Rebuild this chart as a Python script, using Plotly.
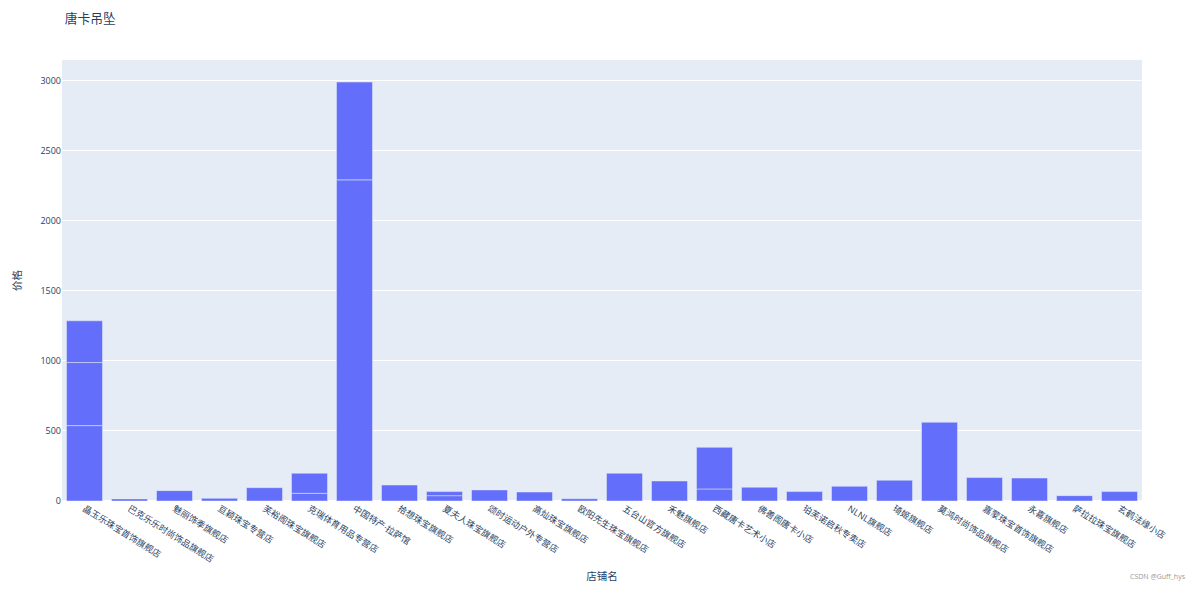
import pandas as pd
import plotly.express as px

shops = [
    "晶玉乐珠宝首饰旗舰店", "晶玉乐珠宝首饰旗舰店", "晶玉乐珠宝首饰旗舰店",
    "巴克乐乐时尚饰品旗舰店",
    "魅丽饰季旗舰店",
    "亘颖珠宝专营店",
    "芙裕阁珠宝旗舰店",
    "克瑞体育用品专营店", "克瑞体育用品专营店",
    "中国特产·拉萨馆", "中国特产·拉萨馆",
    "拾想珠宝旗舰店",
    "夏夫人珠宝旗舰店", "夏夫人珠宝旗舰店",
    "颂时运动户外专营店",
    "高灿珠宝旗舰店",
    "欧阳先生珠宝旗舰店",
    "五台山官方旗舰店",
    "禾魅旗舰店",
    "西藏唐卡艺术小店", "西藏唐卡艺术小店",
    "佛善阁唐卡小店",
    "珀芙诺启秋专卖店",
    "NLNL旗舰店",
    "琦姬旗舰店",
    "莫鸿时尚饰品旗舰店",
    "嘉蒙珠宝首饰旗舰店",
    "永喜旗舰店",
    "萨拉拉珠宝旗舰店",
    "玄鹤法缘小店",
]
prices = [
    538, 450, 298,
    15,
    74,
    19,
    95,
    55, 143,
    2292, 698,
    114,
    38, 29,
    79,
    64,
    16,
    198,
    143,
    86, 297,
    98,
    67,
    105,
    148,
    562,
    167,
    164,
    38,
    67,
]

df = pd.DataFrame({"店铺名": shops, "价格": prices})

fig = px.bar(df, x="店铺名", y="价格", title="唐卡吊坠")

fig.update_layout(
    width=1184, height=575,
    font=dict(family="Open Sans, Noto Sans CJK SC", size=9),
    title=dict(font=dict(size=12.75), x=0.048, xanchor="left",
               y=0.982, yanchor="middle"),
    margin=dict(l=54, r=50, t=52, b=82, autoexpand=False),
)
fig.update_xaxes(tickangle=32, automargin=False, title_standoff=27,
                 title_font_size=10.5, tickfont_size=9)
fig.update_yaxes(automargin=False, title_standoff=16,
                 title_font_size=10.5, tickfont_size=9)
fig.add_annotation(
    text="CSDN @Guff_hys", xref="paper", yref="paper", x=1.0426, y=-0.186,
    xanchor="right", yanchor="bottom", showarrow=False,
    font=dict(size=7, color="#999999"),
)

fig.write_html("out.html")
